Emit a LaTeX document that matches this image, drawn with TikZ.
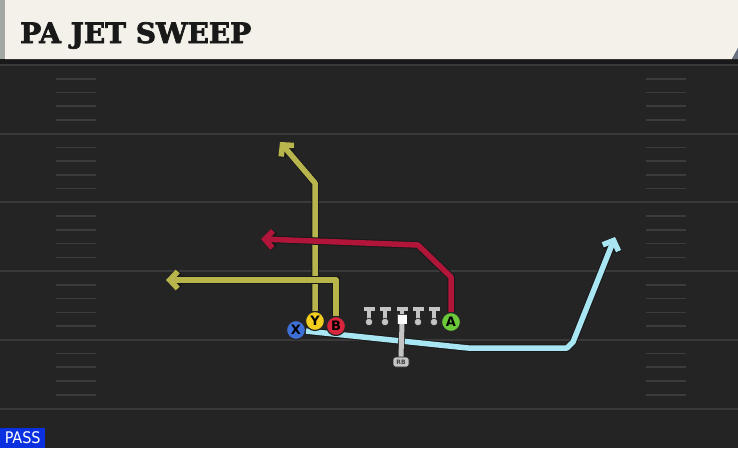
\documentclass[tikz,border=0pt]{standalone}
\usepackage{fontspec}
\setmainfont{DejaVu Sans}
\newfontfamily\titlefont{DejaVu Serif Bold}[FakeBold=2.5]
\newfontfamily\passfont{DejaVu Sans Condensed}
\usetikzlibrary{arrows.meta}
\definecolor{fieldbg}{HTML}{242424}
\definecolor{fieldline}{HTML}{3A3A3A}
\definecolor{hashc}{HTML}{3C3C3C}
\definecolor{cream}{HTML}{F4F1EA}
\definecolor{stripgray}{HTML}{A3A8A3}
\definecolor{cornerc}{HTML}{6A7282}
\definecolor{passblue}{HTML}{0B30E0}
\definecolor{xblue}{HTML}{3D6FD6}
\definecolor{yyellow}{HTML}{F2CF1E}
\definecolor{bred}{HTML}{D7263D}
\definecolor{agreen}{HTML}{6BC93A}
\definecolor{olive}{HTML}{B8B54C}
\definecolor{redroute}{HTML}{B2153A}
\definecolor{lightblue}{HTML}{A9E6F3}
\definecolor{piecegray}{HTML}{C4C4C4}
\tikzset{
  route/.style={draw=#1, line width=5.5pt, line join=round,
    -{Straight Barb[length=8pt,width=17pt]},
    preaction={draw=black!90, line width=7.5pt}},
  player/.style={circle, fill=#1, draw=black!85, line width=1.2pt, minimum size=19pt,
    inner sep=0pt, text=black, font=\bfseries\fontsize{13}{13}\selectfont},
  fline/.style={draw=fieldline, line width=2pt},
  hashmark/.style={draw=hashc, line width=1.6pt},
  piece/.style={draw=piecegray, line width=3.4pt, preaction={draw=black!85, line width=4.8pt}},
}
\begin{document}
\begin{tikzpicture}[x=1pt,y=-1pt]
\useasboundingbox (0,0) rectangle (738,448);
\fill[fieldbg] (0,0) rectangle (738,448);
\fill[black!90] (0,59) rectangle (738,64);
% field lines and hashes
\foreach \k in {0,...,5} {
  \draw[fline] (0,65+68.7*\k) -- (738,65+68.7*\k);
}
\foreach \k in {0,...,4} {
  \foreach \j in {1,...,4} {
    \draw[hashmark] (56,65+68.7*\k+13.74*\j) -- (96,65+68.7*\k+13.74*\j);
    \draw[hashmark] (646,65+68.7*\k+13.74*\j) -- (686,65+68.7*\k+13.74*\j);
  }
}
% title bar
\fill[stripgray] (0,0) rectangle (5,59);
\fill[cream] (5,0) -- (738,0) -- (738,48) -- (732,59) -- (5,59) -- cycle;
\fill[cornerc] (738,48) -- (738,59) -- (732,59) -- cycle;
\node[anchor=base west, inner sep=0pt, text=black!90] (title) at (20,43)
  {\titlefont\fontsize{28}{28}\selectfont PA JET SWEEP};
% pass label
\node[fill=passblue, anchor=south west, minimum width=45pt, minimum height=20pt,
  inner sep=0pt, text=white] (pass) at (0,448)
  {\passfont\fontsize{16}{16}\selectfont PASS};
% players (positions)
\coordinate (Xp) at (296,330);
\coordinate (Yp) at (315,321);
\coordinate (Bp) at (336,326);
\coordinate (Ap) at (451,322);
\node[player=xblue] (X) at (Xp) {};
\node[player=yyellow] (Y) at (Yp) {};
\node[player=bred] (B) at (Bp) {};
\node[player=agreen] (A) at (Ap) {};
% route bends
\coordinate (y1) at (315,183);
\coordinate (y2) at (280,142);
\coordinate (b1) at (336,280);
\coordinate (b2) at (166,280);
\coordinate (a1) at (451,277);
\coordinate (a2) at (418,245);
\coordinate (a3) at (261,239);
\coordinate (x1) at (468,348);
\coordinate (x2) at (567,348);
\coordinate (x3) at (573,342);
\coordinate (x4) at (615,237);
% routes
\draw[route=olive] (Y) -- (y1) -- (y2);
\draw[route=olive] (B) -- (b1) -- (b2);
\draw[route=redroute] (A) -- (a1) -- (a2) -- (a3);
\draw[route=lightblue] (X) -- (x1) -- (x2) -- (x3) -- (x4);
% redraw players on top
\node[player=xblue] at (Xp) {X};
\node[player=yyellow] at (Yp) {Y};
\node[player=bred] at (Bp) {B};
\node[player=agreen] at (Ap) {A};
% offensive line
\foreach \x [count=\i] in {369,385,402,418,434} {
  \draw[piece] (\x-5.5,309) -- (\x+5.5,309) (\x,309) -- (\x,320);
  \filldraw[fill=piecegray, draw=black!85, line width=0.7pt] (\x,322) circle (3.8pt);
  \coordinate (lm\i) at (\x,309);
}
% QB and RB
\node[fill=white, draw=black!70, line width=0.4pt, minimum size=9pt, inner sep=0pt] (qb) at (402,319) {};
\node[fill=piecegray, draw=black!85, line width=0.7pt, rounded corners=2.5pt,
  minimum width=16pt, minimum height=10pt, inner sep=0pt, text=black!75,
  font=\bfseries\fontsize{6}{6}\selectfont] (rb) at (401,362) {RB};
\draw[draw=piecegray, line width=5pt, preaction={draw=black!85, line width=6.5pt}]
  (qb.south) -- (rb.north);
\node[fill=white, minimum size=9pt, inner sep=0pt] at (402,319) {};
\end{tikzpicture}
\end{document}
